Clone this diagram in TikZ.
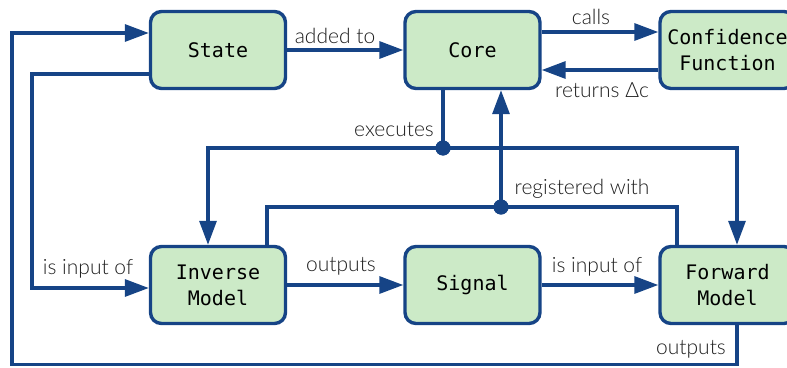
\documentclass[tikz,border=0pt]{standalone}
\usepackage{fontspec}
\newfontfamily\boxfont{DejaVu Sans Mono}
\newfontfamily\lblfont{Lato Light}
\usetikzlibrary{arrows.meta}
\definecolor{edgeblue}{RGB}{22,68,134}
\definecolor{boxgreen}{RGB}{204,234,199}
\definecolor{lblgray}{RGB}{30,30,30}
\tikzset{
  block/.style={draw=edgeblue, fill=boxgreen, line width=3.4pt, rounded corners=11pt,
    minimum width=135pt, minimum height=77pt, inner sep=0pt, align=center,
    font=\boxfont\fontsize{20}{26}\selectfont},
  link/.style={draw=edgeblue, line width=3.2pt},
  arr/.style={link, -{Triangle[length=24pt, width=17pt]}},
  lbl/.style={text=lblgray, font=\lblfont\fontsize{21}{24}\selectfont, inner sep=0pt},
  joint/.style={circle, fill=edgeblue, minimum size=15pt, inner sep=0pt}
}
\begin{document}
\begin{tikzpicture}[x=1pt, y=-1pt]
\useasboundingbox (0,0) rectangle (787,367);
\clip (0,0) rectangle (787,367);

% blocks
\node[block] (state) at (218,50) {State};
\node[block] (core)  at (472.5,50) {Core};
\node[block] (conf)  at (727.5,50) {Confidence\\Function};
\node[block] (inv)   at (218,285) {Inverse\\Model};
\node[block] (sig)   at (472.5,285) {Signal};
\node[block] (fwd)   at (727.5,285) {Forward\\Model};

% routing points
\coordinate (inL) at (32,288);
\coordinate (outer) at (12,364.5);
\node[joint] (j1) at (443,148) {};
\node[joint] (j2) at (501,207) {};

% top row
\draw[arr] (state) -- (core);
\draw[arr] ([yshift=18pt]core.east) -- ([yshift=18pt]conf.west);
\draw[arr] ([yshift=-20pt]conf.west) -- ([yshift=-20pt]core.east);

% state is input of inverse model
\draw[arr] ([yshift=-24pt]state.west) -| (inL) -- ([yshift=-3pt]inv.west);

% forward model output fed back to state
\draw[arr] ([xshift=9.5pt]fwd.south) |- (outer) |- ([yshift=17pt]state.west);

% core executes both models
\draw[link] ([xshift=-29.5pt]core.south) -- (j1.center);
\draw[arr] (j1.center) -| ([xshift=-10pt]inv.north);
\draw[arr] (j1.center) -| ([xshift=9.5pt]fwd.north);

% models registered with core
\draw[link] ([xshift=49pt]inv.north) |- (j2.center) -| ([xshift=-50.5pt]fwd.north);
\draw[arr] (j2.center) -- ([xshift=28.5pt]core.south);
\node[joint] at (j1) {};
\node[joint] at (j2) {};

% bottom row
\draw[arr] (inv) -- (sig);
\draw[arr] (sig) -- (fwd);

% labels
\node[lbl] (l1) at (335,36) {added to};
\node[lbl] (l2) at (591,17) {calls};
\node[lbl] (l3) at (602,90) {returns Δc};
\node[lbl] (l4) at (394,130) {executes};
\node[lbl] (l5) at (582,189) {registered with};
\node[lbl] (l6) at (88,269) {is input of};
\node[lbl] (l7) at (341,266) {outputs};
\node[lbl] (l8) at (597,267) {is input of};
\node[lbl] (l9) at (691,349) {outputs};
\end{tikzpicture}
\end{document}
